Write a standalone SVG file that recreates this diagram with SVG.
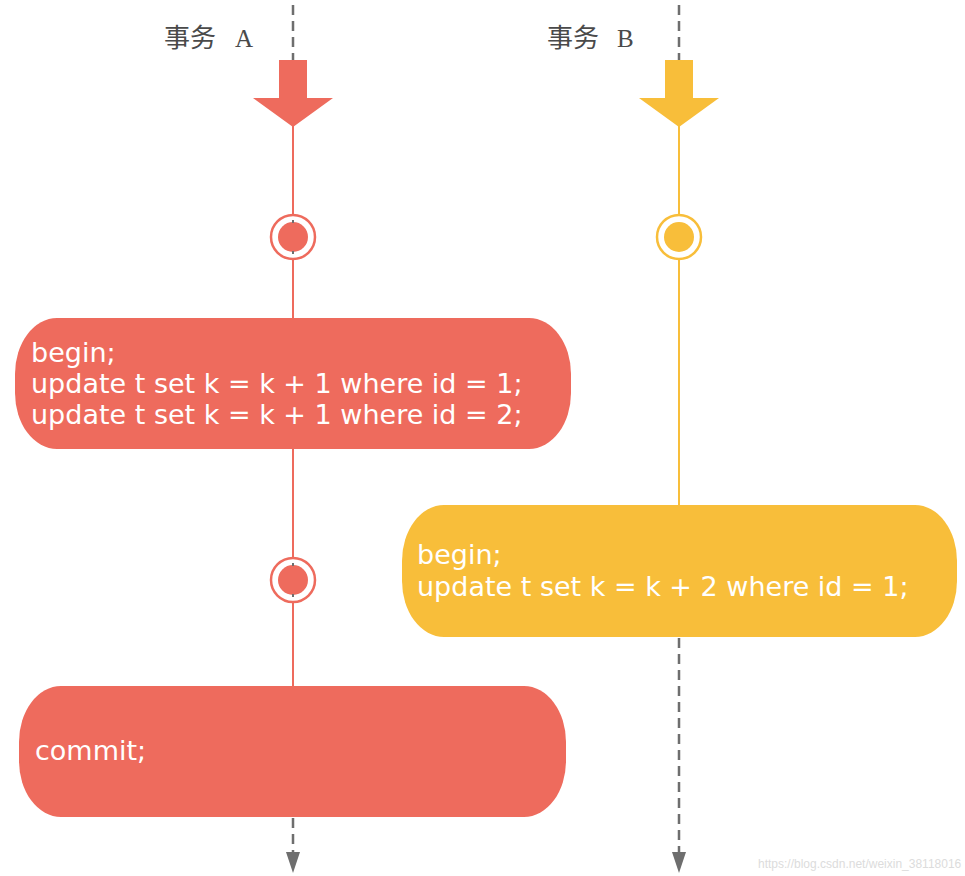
<svg xmlns="http://www.w3.org/2000/svg" width="965" height="876" viewBox="0 0 965 876">
<defs>
<style>
.dash{stroke:#6e6e6e;stroke-width:2.5;stroke-dasharray:10 6;fill:none}
.red{fill:#EE6B5D}
.yel{fill:#F8BE3A}
.lr{stroke:#EE6B5D;stroke-width:2;fill:none}
.ly{stroke:#F8BE3A;stroke-width:2;fill:none}
.code{font-family:"DejaVu Sans",Verdana,sans-serif;font-size:27px;fill:#ffffff}
.title{font-family:"Noto Sans CJK SC",sans-serif;font-size:26px;fill:#4a4a4a}
.ser{font-family:"Liberation Serif",serif;font-size:25px}
.wm{font-family:"Liberation Sans",Arial,sans-serif;font-size:12px;fill:#dcdcdc}
</style>
</defs>
<g id="connectors">
<line class="dash" x1="293" y1="5" x2="293" y2="60"/>
<line class="dash" x1="679" y1="5" x2="679" y2="60"/>
<line class="lr" x1="293" y1="126" x2="293" y2="318"/>
<line class="lr" x1="293" y1="449" x2="293" y2="686"/>
<line class="ly" x1="679" y1="126" x2="679" y2="505"/>
<line class="dash" x1="293" y1="818" x2="293" y2="853"/>
<path d="M286,852 L300,852 L293,873 Z" fill="#6e6e6e"/>
<line class="dash" x1="679" y1="638" x2="679" y2="853"/>
<path d="M672,852 L686,852 L679,873 Z" fill="#6e6e6e"/>
</g>
<g id="arrowA">
<path class="red" d="M279,60 L307,60 L307,98 L333,98 L293,127 L253,98 L279,98 Z"/>
</g>
<g id="arrowB">
<path class="yel" d="M665,60 L693,60 L693,98 L719,98 L679,127 L639,98 L665,98 Z"/>
</g>
<g id="labelA"><text class="title" x="164" y="47">事务<tspan class="ser" x="235">A</tspan></text></g>
<g id="labelB"><text class="title" x="547" y="47">事务<tspan class="ser" x="617">B</tspan></text></g>
<g id="eventA1">
<circle cx="293" cy="237" r="22" fill="#fff" stroke="#EE6B5D" stroke-width="2.5"/>
<circle class="red" cx="293" cy="237" r="15"/>
<rect x="292" y="220" width="2" height="3" fill="#6e6e6e"/>
<rect x="292" y="251" width="2" height="3" fill="#6e6e6e"/>
</g>
<g id="eventA2">
<circle cx="293" cy="580" r="22" fill="#fff" stroke="#EE6B5D" stroke-width="2.5"/>
<circle class="red" cx="293" cy="580" r="15"/>
<rect x="292" y="563" width="2" height="3" fill="#6e6e6e"/>
<rect x="292" y="594" width="2" height="3" fill="#6e6e6e"/>
</g>
<g id="eventB1">
<circle cx="679" cy="237" r="22" fill="#fff" stroke="#F8BE3A" stroke-width="2.5"/>
<circle class="yel" cx="679" cy="237" r="15"/>
</g>
<g id="boxA1">
<rect class="red" x="15" y="318" width="556" height="131" rx="42" ry="56"/>
<text class="code" x="31" y="362">begin;</text>
<text class="code" x="31" y="393">update t set k = k + 1 where id = 1;</text>
<text class="code" x="31" y="424">update t set k = k + 1 where id = 2;</text>
</g>
<g id="boxB1">
<rect class="yel" x="402" y="505" width="555" height="132" rx="42" ry="56"/>
<text class="code" x="417" y="564">begin;</text>
<text class="code" x="417" y="596">update t set k = k + 2 where id = 1;</text>
</g>
<g id="boxA2">
<rect class="red" x="19" y="686" width="547" height="131" rx="42" ry="56"/>
<text class="code" x="35" y="760">commit;</text>
</g>
<text class="wm" x="758" y="868">https://blog.csdn.net/weixin_38118016</text>
</svg>
